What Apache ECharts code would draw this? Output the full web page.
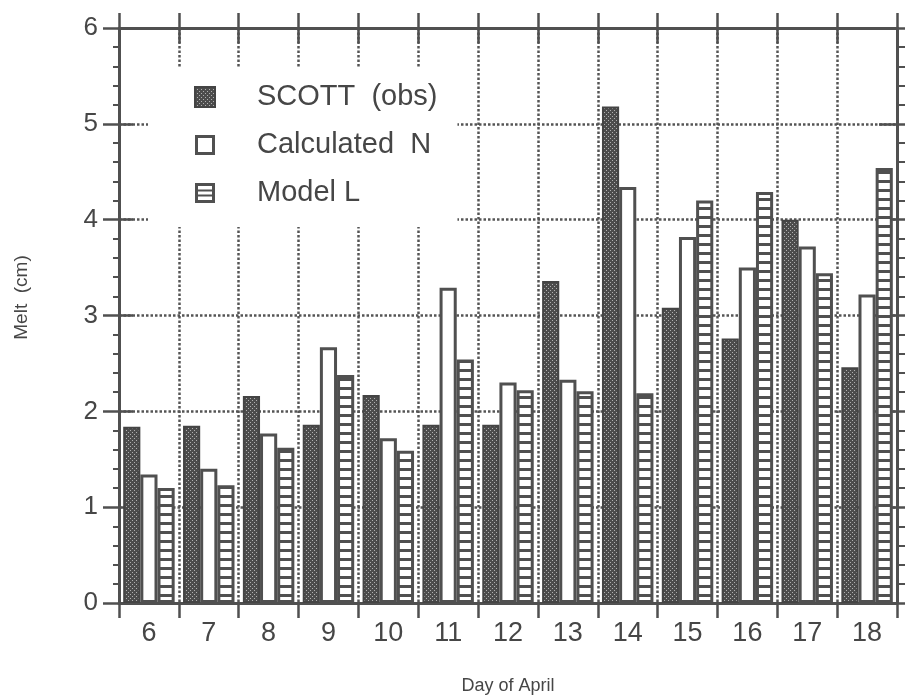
<!DOCTYPE html>
<html>
<head>
<meta charset="utf-8">
<script src="https://cdn.jsdelivr.net/npm/echarts@6/dist/echarts.min.js"></script>
<style>
html,body{margin:0;padding:0;background:#fff;}
#chart{width:905px;height:700px;}
</style>
</head>
<body>
<div id="chart"></div>
<script>
const days = ['6','7','8','9','10','11','12','13','14','15','16','17','18'];
const scottObs = [1.84, 1.85, 2.16, 1.86, 2.17, 1.86, 1.86, 3.36, 5.18, 3.08, 2.76, 4.00, 2.46];
const calculatedN = [1.34, 1.40, 1.77, 2.67, 1.72, 3.29, 2.30, 2.33, 4.34, 3.82, 3.50, 3.72, 3.22];
const modelL = [1.20, 1.23, 1.62, 2.38, 1.59, 2.54, 2.22, 2.21, 2.19, 4.20, 4.29, 3.44, 4.54];
const yTicks = [0, 1, 2, 3, 4, 5, 6];

const INK = '#464646';
const FONT = '"Liberation Sans", Arial, Helvetica, sans-serif';

function stippleCanvas() {
  const c = document.createElement('canvas');
  c.width = 4; c.height = 4;
  const g = c.getContext('2d');
  g.fillStyle = '#4c4c4c'; g.fillRect(0, 0, 4, 4);
  g.fillStyle = '#b0b0b0';
  g.fillRect(0, 0, 1, 1);
  g.fillRect(2, 2, 1, 1);
  return c;
}
function stripeCanvas() {
  const c = document.createElement('canvas');
  c.width = 4; c.height = 9;
  const g = c.getContext('2d');
  g.fillStyle = '#ffffff'; g.fillRect(0, 0, 4, 9);
  g.fillStyle = '#505050'; g.fillRect(0, 0, 4, 3);
  return c;
}
const stipple = { image: stippleCanvas(), repeat: 'repeat' };
const stripes = { image: stripeCanvas(), repeat: 'repeat' };

const dotted = { color: '#555', width: 2.5, type: [2.5, 2] };
const axisLine = { show: true, onZero: false, lineStyle: { color: '#505050', width: 3 } };
const tickLine = { color: '#505050', width: 2.5 };
const noLine = { show: false, onZero: false };

const chart = echarts.init(document.getElementById('chart'), null, { renderer: 'canvas' });

const hollowIcon = 'path://M0,0H20V3H0Z M0,17H20V20H0Z M0,0H3V20H0Z M17,0H20V20H17Z';
const ladderIcon = 'path://M0,0H20V3H0Z M0,17H20V20H0Z M0,0H3V20H0Z M17,0H20V20H17Z M0,6.5H20V8.5H0Z M0,11.5H20V13.5H0Z';

const option = {
  backgroundColor: '#ffffff',
  animation: false,
  textStyle: { fontFamily: FONT },
  grid: { left: 119, right: 8, top: 28, bottom: 91, containLabel: false },
  legend: {
    orient: 'vertical',
    left: 148, top: 68,
    padding: [14, 20, 19, 46],
    backgroundColor: '#ffffff',
    itemGap: 18,
    itemWidth: 20, itemHeight: 20,
    textStyle: { fontSize: 29, color: INK, fontFamily: FONT, lineHeight: 30, padding: [0, 0, 0, 37] },
    data: [
      { name: 'SCOTT  (obs)', icon: 'rect', itemStyle: { color: stipple, borderColor: '#444', borderWidth: 2 } },
      { name: 'Calculated  N', icon: hollowIcon, itemStyle: { color: '#505050', borderWidth: 0 } },
      { name: 'Model L', icon: ladderIcon, itemStyle: { color: '#505050', borderWidth: 0 } }
    ]
  },
  xAxis: [
    {
      type: 'category', data: days, position: 'bottom',
      axisLine: axisLine,
      axisTick: { show: true, inside: false, length: 15, lineStyle: tickLine },
      axisLabel: { fontSize: 27, color: INK, margin: 17, fontFamily: FONT },
      splitLine: { show: true, lineStyle: dotted },
      name: 'Day of April', nameLocation: 'middle', nameGap: 74,
      nameTextStyle: { fontSize: 18, color: INK, fontFamily: FONT }
    },
    {
      type: 'category', data: days, position: 'top',
      axisLine: axisLine,
      axisTick: { show: false },
      axisLabel: { show: false }, splitLine: { show: false }
    },
    {
      type: 'category', data: days, position: 'top', offset: 15,
      axisLine: noLine,
      axisTick: { show: true, inside: true, length: 30, lineStyle: tickLine },
      axisLabel: { show: false }, splitLine: { show: false }
    }
  ],
  yAxis: [
    {
      type: 'value', min: 0, max: 6, interval: 1, position: 'left',
      axisLine: axisLine,
      axisTick: { show: false },
      axisLabel: { fontSize: 26, color: INK, margin: 21, fontFamily: FONT,
        formatter: v => yTicks.includes(v) ? String(v) : '' },
      splitLine: { show: true, lineStyle: dotted },
      name: 'Melt  (cm)', nameLocation: 'middle', nameGap: 88,
      nameTextStyle: { fontSize: 19, color: INK, fontFamily: FONT, padding: [0, 0, 0, 36] }
    },
    {
      type: 'value', min: 0, max: 6, interval: 1, position: 'left', offset: 16,
      axisLine: noLine,
      axisTick: { show: true, inside: true, length: 30, lineStyle: tickLine },
      axisLabel: { show: false }, splitLine: { show: false }
    },
    {
      type: 'value', min: 0, max: 6, interval: 1, position: 'left',
      axisLine: noLine,
      axisTick: { show: false },
      minorTick: { show: true, splitNumber: 5, length: 6, lineStyle: { color: '#505050', width: 2 } },
      axisLabel: { show: false }, splitLine: { show: false }
    },
    {
      type: 'value', min: 0, max: 6, interval: 1, position: 'right',
      axisLine: axisLine,
      axisTick: { show: false },
      minorTick: { show: false },
      axisLabel: { show: false }, splitLine: { show: false }
    },
    {
      type: 'value', min: 0, max: 6, interval: 1, position: 'right', offset: 8,
      axisLine: noLine,
      axisTick: { show: true, inside: true, length: 26, lineStyle: tickLine },
      axisLabel: { show: false }, splitLine: { show: false }
    },
    {
      type: 'value', min: 0, max: 6, interval: 1, position: 'right',
      axisLine: noLine,
      axisTick: { show: false },
      minorTick: { show: true, splitNumber: 5, length: 9, lineStyle: { color: '#505050', width: 2 } },
      axisLabel: { show: false }, splitLine: { show: false }
    }
  ],
  series: [
    {
      name: 'SCOTT  (obs)', type: 'bar', data: scottObs,
      xAxisIndex: 0, yAxisIndex: 0,
      barGap: '0%', barCategoryGap: '14%',
      itemStyle: { color: stipple, borderColor: '#444', borderWidth: 2 }
    },
    {
      name: 'Calculated  N', type: 'bar', data: calculatedN,
      xAxisIndex: 0, yAxisIndex: 0,
      barGap: '0%', barCategoryGap: '14%',
      itemStyle: { color: '#ffffff', borderColor: '#505050', borderWidth: 3 }
    },
    {
      name: 'Model L', type: 'bar', data: modelL,
      xAxisIndex: 0, yAxisIndex: 0,
      barGap: '0%', barCategoryGap: '14%',
      itemStyle: { color: stripes, borderColor: '#505050', borderWidth: 3 }
    }
  ]
};
chart.setOption(option);
</script>
</body>
</html>
